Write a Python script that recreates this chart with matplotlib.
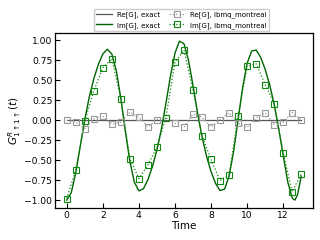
import matplotlib
matplotlib.use("Agg")
import matplotlib.pyplot as plt

# exact curves
t_exact = [0.0, 0.25, 0.5, 0.75, 1.0, 1.25, 1.5, 1.75, 2.0, 2.25, 2.5, 2.75, 3.0, 3.25,
           3.5, 3.75, 4.0, 4.25, 4.5, 4.75, 5.0, 5.25, 5.5, 5.75, 6.0, 6.25, 6.5, 6.75,
           7.0, 7.25, 7.5, 7.75, 8.0, 8.25, 8.5, 8.75, 9.0, 9.25, 9.5, 9.75, 10.0, 10.25,
           10.5, 10.75, 11.0, 11.25, 11.5, 11.75, 12.0, 12.25, 12.5, 12.65, 12.8, 13.0]
im_exact = [-1.000, -0.906, -0.655, -0.323, 0.010, 0.293, 0.518, 0.697, 0.829, 0.888,
            0.828, 0.616, 0.270, -0.141, -0.518, -0.777, -0.884, -0.858, -0.744, -0.579,
            -0.371, -0.107, 0.213, 0.554, 0.840, 0.990, 0.956, 0.749, 0.433, 0.093,
            -0.209, -0.451, -0.643, -0.792, -0.880, -0.862, -0.700, -0.392, 0.008,
            0.407, 0.711, 0.866, 0.878, 0.787, 0.637, 0.443, 0.198, -0.106, -0.440,
            -0.770, -0.975, -1.000, -0.930, -0.700]
re_exact = [0.0] * len(t_exact)

# device data
t_dev = [0.0, 0.5, 1.0, 1.5, 2.0, 2.5, 3.0, 3.5, 4.0, 4.5, 5.0, 5.5, 6.0, 6.5, 7.0,
         7.5, 8.0, 8.5, 9.0, 9.5, 10.0, 10.5, 11.0, 11.5, 12.0, 12.5, 13.0]
re_dev = [0.00, -0.025, -0.105, 0.017, 0.050, -0.050, -0.025, 0.100, 0.037, -0.083,
          0.008, 0.033, -0.040, -0.085, 0.077, 0.040, -0.085, 0.004, 0.092, -0.040,
          -0.090, 0.033, 0.092, -0.054, -0.025, 0.096, 0.004]
im_dev = [-0.98, -0.62, -0.01, 0.367, 0.656, 0.77, 0.265, -0.483, -0.73, -0.56,
          -0.335, 0.033, 0.729, 0.875, 0.375, -0.198, -0.49, -0.755, -0.68, 0.05,
          0.675, 0.705, 0.446, 0.208, -0.412, -0.896, -0.67]

labels = ["Re[G], exact", "Im[G], exact", "Re[G], ibmq_montreal", "Im[G], ibmq_montreal"]

fig = plt.figure(figsize=(3.2, 2.4), dpi=100)
ax = fig.add_axes([0.172, 0.133, 0.806, 0.729])

l1, = ax.plot(t_exact, re_exact, color="#555555", lw=0.9, label=labels[0])
l2, = ax.plot(t_exact, im_exact, color="#006400", lw=1.0, label=labels[1])
l3, = ax.plot(t_dev, re_dev, color="#999999", ls=":", lw=0.9, marker="s", ms=4.2,
              mfc="none", mew=0.8, label=labels[2])
l4, = ax.plot(t_dev, im_dev, color="#118811", ls=":", lw=0.9, marker="s", ms=4.2,
              mfc="none", mew=0.8, label=labels[3])

ax.set_xticks([0, 2, 4, 6, 8, 10, 12])
ax.set_yticks([-1.0, -0.75, -0.5, -0.25, 0.0, 0.25, 0.5, 0.75, 1.0])
ax.tick_params(direction="in", length=3.5, width=0.8, labelsize=6.6, pad=2)
ax.set_xlabel("Time", fontsize=7.5, labelpad=1)
ax.set_ylabel(r"$G^R_{1\uparrow 1\uparrow}(t)$", fontsize=7.5, labelpad=1)
for s in ax.spines.values():
    s.set_linewidth(0.9)

ax.legend(handles=[l1, l2, l3, l4], ncol=2, fontsize=5, loc="lower center",
          bbox_to_anchor=(0.49, 1.01), borderaxespad=0.0, handlelength=2.2,
          columnspacing=1.2, framealpha=1.0, edgecolor="#cccccc")

fig.savefig("out.png", dpi=100)
